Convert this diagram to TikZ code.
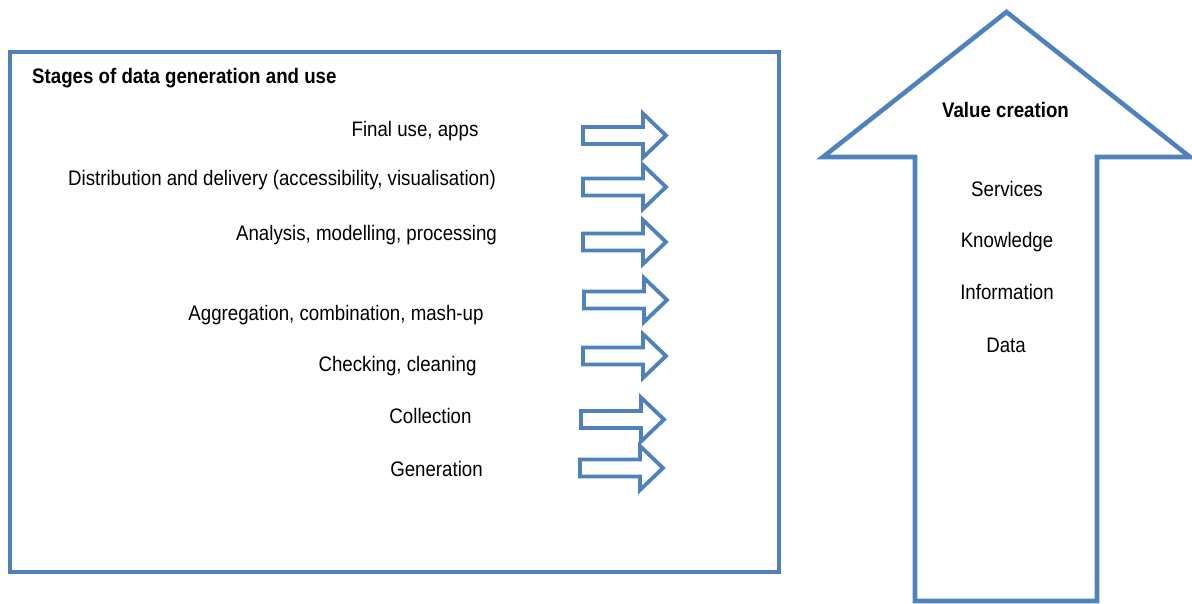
\documentclass[tikz,border=0pt]{standalone}
\usepackage{fontspec}
\setmainfont[FakeStretch=0.89]{Liberation Sans}
\definecolor{ofblue}{HTML}{4F81BD}
\begin{document}
\begin{tikzpicture}[x=1pt,y=-1pt,
  frame/.style={draw=ofblue,line width=4.6pt,line join=miter},
  smallarrow/.style={draw=ofblue,line width=3.8pt,line join=miter},
  lbl/.style={anchor=base,inner sep=0pt,font=\fontsize{21}{24}\selectfont},
  blbl/.style={lbl,font=\fontsize{21}{24}\selectfont\bfseries},
  pics/stagearrow/.style={code={
    \draw[smallarrow] (0,-8.5) -- (60,-8.5) -- (60,-22) -- (83,0) -- (60,22) -- (60,8.5) -- (0,8.5) -- cycle;}}
]
\useasboundingbox (0,0) rectangle (1192,604);
% main box
\draw[frame] (10,52) rectangle (779,572);
\node[blbl,anchor=base west] (title) at (32,84) {Stages of data generation and use};
% stages
\node[lbl] (final) at (415,137) {Final use, apps};
\node[lbl] (distr) at (282,186) {Distribution and delivery (accessibility, visualisation)};
\node[lbl] (anal) at (366.5,240.5) {Analysis, modelling, processing};
\node[lbl] (aggr) at (336,320) {Aggregation, combination, mash-up};
\node[lbl] (check) at (397.5,371) {Checking, cleaning};
\node[lbl] (coll) at (430.5,423) {Collection};
\node[lbl] (gen) at (436.5,476) {Generation};
% stage arrows
\pic at (583,135.5) {stagearrow};
\pic at (583,187) {stagearrow};
\pic at (583,242) {stagearrow};
\pic at (584,300) {stagearrow};
\pic at (583,356) {stagearrow};
\pic at (581,419.5) {stagearrow};
\pic at (580,468) {stagearrow};
% value creation arrow
\draw[frame] (1006.5,12) -- (1190,157) -- (1097,157) -- (1097,601) -- (915,601) -- (915,157) -- (823,157) -- cycle;
\node[blbl] (value) at (1005.5,118) {Value creation};
\node[lbl] (serv) at (1007,197) {Services};
\node[lbl] (know) at (1007,248) {Knowledge};
\node[lbl] (info) at (1007,300) {Information};
\node[lbl] (data) at (1006,352) {Data};
\end{tikzpicture}
\end{document}
